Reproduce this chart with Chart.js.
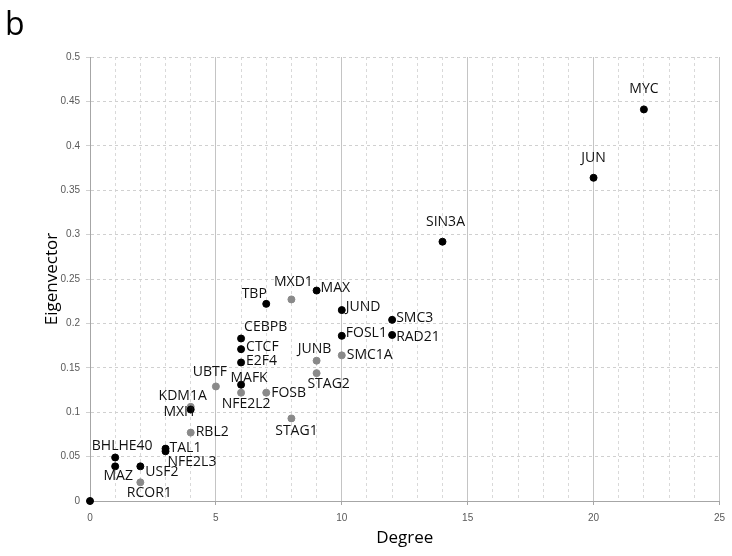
<!DOCTYPE html>
<html>
<head>
<meta charset="utf-8">
<script src="https://cdn.jsdelivr.net/npm/chart.js@4.4.1/dist/chart.umd.min.js"></script>
<style>
  body{margin:0;background:#fff;}
  #wrap{position:relative;width:732px;height:556px;}
  #panel{position:absolute;left:5px;top:3px;font:32px "Open Sans",sans-serif;color:#000;line-height:40px;}
</style>
</head>
<body>
<div id="wrap">
  <canvas id="net"></canvas>
  <div id="panel">b</div>
</div>
<script>
// network centrality: degree vs eigenvector per factor
const blackGenes  = ["MYC","JUN","SIN3A","SMC3","RAD21","FOSL1","JUND","MAX","TBP","CEBPB","CTCF","E2F4","MAFK","MXI1","TAL1","NFE2L3","BHLHE40","MAZ","USF2",""];
const blackDegree = [22,20,14,12,12,10,10,9,7,6,6,6,6,4,3,3,1,1,2,0];
const blackEigen  = [0.441,0.364,0.292,0.204,0.187,0.186,0.215,0.237,0.222,0.183,0.171,0.156,0.131,0.103,0.059,0.056,0.049,0.039,0.039,0];

const grayGenes  = ["MXD1","JUNB","SMC1A","STAG2","FOSB","NFE2L2","UBTF","KDM1A","STAG1","RBL2","RCOR1"];
const grayDegree = [8,9,10,9,7,6,5,4,8,4,2];
const grayEigen  = [0.227,0.158,0.164,0.144,0.122,0.122,0.129,0.106,0.093,0.077,0.021];

const xTicks = [0,5,10,15,20,25];

// label offsets from the dot: [dx, dy, align]
const labelPlace = {
  MYC:[0,-20,'center'], JUN:[0,-20,'center'], SIN3A:[3,-20,'center'],
  SMC3:[4,-2,'left'], RAD21:[4,2,'left'], FOSL1:[4,-3,'left'], JUND:[4,-3,'left'], MAX:[4,-3,'left'],
  TBP:[-12,-10,'center'], CEBPB:[3,-11,'left'], CTCF:[5,-2,'left'], E2F4:[5,-1,'left'],
  MAFK:[8,-7,'center'], MXI1:[-11,2,'center'], TAL1:[4,-1,'left'], NFE2L3:[2,11,'left'],
  BHLHE40:[7,-11,'center'], MAZ:[3,10,'center'], USF2:[5,6,'left'],
  MXD1:[2,-17,'center'], JUNB:[-2,-12,'center'], SMC1A:[5,0,'left'], STAG2:[12,11,'center'],
  FOSB:[5,0,'left'], NFE2L2:[5,11,'center'], UBTF:[-6,-14,'center'], KDM1A:[-8,-11,'center'],
  STAG1:[5,13,'center'], RBL2:[5,-1,'left'], RCOR1:[9,11,'center']
};

const toPts = (xs, ys) => xs.map((v, i) => ({x: v, y: ys[i]}));

const geneLabels = {
  id: 'geneLabels',
  afterDatasetsDraw(chart){
    const {ctx, scales:{x, y}} = chart;
    const names = [blackGenes, grayGenes];
    ctx.save();
    ctx.font = '14px "Open Sans", sans-serif';
    ctx.fillStyle = '#111';
    ctx.textBaseline = 'middle';
    chart.data.datasets.forEach((ds, d) => {
      names[d].forEach((g, i) => {
        if(!g) return;
        const [dx, dy, align] = labelPlace[g];
        ctx.textAlign = align;
        ctx.fillText(g, x.getPixelForValue(ds.data[i].x) + dx, y.getPixelForValue(ds.data[i].y) + dy);
      });
    });
    ctx.restore();
  }
};

const tickFont = {family:'"Liberation Sans", sans-serif', size:10};
const titleFont = {family:'"Open Sans", sans-serif', size:17};

new Chart(document.getElementById("net"), {
  type: "scatter",
  data: {
    datasets: [
      { data: toPts(blackDegree, blackEigen), backgroundColor:"#000", borderColor:"#000",
        pointRadius:3.5, pointHoverRadius:3.5, order:0, clip:false },
      { data: toPts(grayDegree, grayEigen), backgroundColor:"#8a8a8a", borderColor:"#8a8a8a",
        pointRadius:3.5, pointHoverRadius:3.5, order:1, clip:false }
    ]
  },
  options: {
    responsive:true, maintainAspectRatio:false, animation:false, devicePixelRatio:1,
    layout:{ padding:{left:0, top:57, right:10, bottom:0} },
    plugins:{ legend:{display:false}, tooltip:{enabled:false} },
    scales:{
      x:{
        type:"linear", min:0, max:25,
        afterFit(s){ s.height = 55; },
        afterBuildTicks(s){ s.ticks = xTicks.map(v => ({value:v})); },
        ticks:{ font:tickFont, color:"#595959", padding:7, maxRotation:0 },
        grid:{ color:"#c4c4c4", lineWidth:1, tickLength:4, tickColor:"#a6a6a6" },
        border:{ color:"#a6a6a6", width:1 },
        title:{ display:true, text:"Degree", font:titleFont, color:"#000", padding:{top:0,bottom:8} }
      },
      xMinor:{
        type:"linear", position:"bottom", min:0, max:25,
        afterFit(s){ s.height = 0; },
        ticks:{ display:false, stepSize:1 },
        grid:{ color:c => (c.tick && c.tick.value % 5 === 0) ? "rgba(0,0,0,0)" : "#d9d9d9", drawTicks:false },
        border:{ display:false, dash:[3,3] }
      },
      y:{
        type:"linear", min:0, max:0.5,
        afterFit(s){ s.width = 90; },
        ticks:{ stepSize:0.05, font:tickFont, color:"#595959", padding:6,
                callback:v => String(+v.toFixed(2)) },
        grid:{ color:c => c.tick && c.tick.value === 0 ? "rgba(0,0,0,0)" : "#d0d0d0", tickLength:4 },
        border:{ color:"#a6a6a6", width:1, dash:[3,3] },
        title:{ display:true, text:"Eigenvector", font:titleFont, color:"#000", padding:{top:42,bottom:0} }
      }
    }
  },
  plugins:[geneLabels]
});
</script>
</body>
</html>
